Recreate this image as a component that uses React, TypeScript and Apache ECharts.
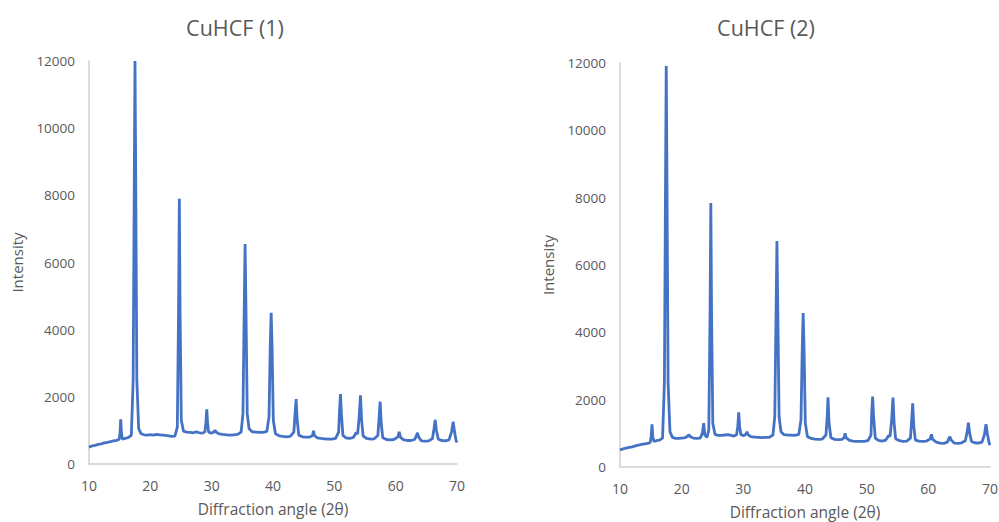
import React, { useEffect, useRef } from "react";
import * as echarts from "echarts";

const titles = ["CuHCF (1)", "CuHCF (2)"];
const xTitle = "Diffraction angle (2θ)";
const yTitle = "Intensity";

// [2θ, intensity]
const cuhcf1: [number, number][] = [
  [10.0, 500], [10.5, 540], [11.0, 555], [11.5, 585], [12.0, 600], [12.5, 630], [13.0, 645], [13.5, 665],
  [14.0, 690], [14.5, 705], [14.9, 730], [15.05, 900], [15.17, 1330], [15.3, 900], [15.45, 740],
  [15.9, 760], [16.4, 790], [16.9, 850], [17.2, 2500], [17.4, 9000], [17.5, 12000], [17.6, 9000],
  [17.8, 2500], [18.1, 1050], [18.5, 900], [19.0, 870], [19.5, 860], [20.0, 875], [20.5, 860],
  [21.0, 880], [21.5, 870], [22.0, 860], [22.5, 850], [23.0, 840], [23.5, 820], [24.0, 830],
  [24.4, 1100], [24.6, 4500], [24.73, 7900], [24.85, 4500], [25.05, 1300], [25.4, 980], [25.9, 950],
  [26.5, 940], [27.0, 930], [27.5, 955], [28.0, 930], [28.5, 920], [28.9, 960], [29.05, 1200],
  [29.2, 1630], [29.35, 1200], [29.5, 950], [30.0, 920], [30.4, 960], [30.55, 1010], [30.7, 950],
  [31.2, 900], [31.8, 880], [32.4, 870], [33.0, 860], [33.6, 870], [34.2, 880], [34.8, 950],
  [35.1, 1500], [35.3, 4500], [35.45, 6550], [35.6, 4500], [35.8, 1500], [36.1, 1050], [36.6, 960],
  [37.2, 950], [37.8, 940], [38.4, 940], [39.0, 970], [39.35, 1400], [39.55, 3500], [39.7, 4500],
  [39.85, 3500], [40.05, 1300], [40.4, 900], [41.0, 840], [41.6, 820], [42.2, 810], [42.8, 820],
  [43.4, 950], [43.6, 1500], [43.77, 1935], [43.95, 1300], [44.2, 860], [44.8, 810], [45.4, 800],
  [46.0, 800], [46.45, 850], [46.6, 990], [46.75, 850], [47.2, 780], [47.8, 760], [48.4, 750],
  [49.0, 740], [49.6, 740], [50.2, 760], [50.7, 950], [50.85, 1600], [51.0, 2085], [51.15, 1500],
  [51.4, 850], [51.9, 780], [52.5, 760], [53.1, 790], [53.55, 930], [53.8, 900], [54.05, 1400],
  [54.26, 2045], [54.45, 1300], [54.7, 830], [55.3, 760], [55.9, 740], [56.5, 750], [57.1, 850],
  [57.3, 1400], [57.47, 1855], [57.65, 1200], [57.9, 780], [58.5, 730], [59.1, 720], [59.7, 730],
  [60.35, 800], [60.57, 960], [60.8, 790], [61.3, 720], [61.9, 700], [62.5, 700], [63.1, 730],
  [63.4, 850], [63.56, 930], [63.75, 800], [64.2, 690], [64.8, 680], [65.4, 690], [66.0, 760],
  [66.25, 1050], [66.44, 1310], [66.65, 1000], [66.95, 740], [67.5, 700], [68.1, 690], [68.7, 720],
  [69.1, 950], [69.38, 1260], [69.6, 950], [69.85, 700], [70.0, 640],
];

const cuhcf2: [number, number][] = [
  [10.0, 510], [10.5, 540], [11.0, 560], [11.5, 580], [12.0, 600], [12.5, 625], [13.0, 650], [13.5, 670],
  [14.0, 690], [14.5, 700], [14.9, 730], [15.05, 900], [15.19, 1270], [15.32, 900], [15.5, 760],
  [15.9, 780], [16.4, 800], [16.9, 860], [17.2, 2500], [17.4, 9000], [17.5, 11910], [17.6, 9000],
  [17.8, 2500], [18.1, 1050], [18.5, 880], [19.0, 850], [19.5, 850], [20.0, 860], [20.6, 870],
  [21.0, 920], [21.2, 960], [21.4, 900], [21.9, 860], [22.5, 850], [23.0, 860], [23.35, 1000],
  [23.57, 1300], [23.75, 950], [24.1, 880], [24.4, 1100], [24.6, 4500], [24.73, 7840], [24.85, 4500],
  [25.05, 1300], [25.4, 970], [25.9, 940], [26.5, 940], [27.0, 950], [27.5, 960], [28.0, 940],
  [28.5, 920], [28.9, 960], [29.1, 1200], [29.25, 1625], [29.4, 1200], [29.6, 960], [30.1, 930],
  [30.45, 980], [30.6, 1050], [30.75, 960], [31.2, 900], [31.8, 890], [32.4, 880], [33.0, 870],
  [33.6, 880], [34.2, 880], [34.8, 950], [35.1, 1500], [35.3, 4500], [35.45, 6710], [35.6, 4500],
  [35.8, 1500], [36.1, 1050], [36.6, 960], [37.2, 950], [37.8, 945], [38.4, 940], [39.0, 970],
  [39.35, 1400], [39.55, 3500], [39.7, 4570], [39.85, 3500], [40.05, 1300], [40.4, 900], [41.0, 850],
  [41.6, 830], [42.2, 820], [42.8, 830], [43.4, 950], [43.6, 1500], [43.73, 2070], [43.9, 1300],
  [44.2, 870], [44.8, 820], [45.4, 810], [46.0, 820], [46.35, 870], [46.5, 1000], [46.65, 870],
  [47.2, 790], [47.8, 770], [48.4, 760], [49.0, 760], [49.6, 760], [50.2, 780], [50.7, 950],
  [50.82, 1600], [50.97, 2090], [51.12, 1500], [51.4, 860], [51.9, 790], [52.5, 770], [53.1, 800],
  [53.55, 930], [53.8, 920], [54.05, 1400], [54.27, 2060], [54.45, 1300], [54.7, 840], [55.3, 780],
  [55.9, 760], [56.5, 770], [57.1, 860], [57.3, 1400], [57.46, 1890], [57.65, 1200], [57.9, 800],
  [58.5, 770], [59.1, 760], [59.7, 770], [60.3, 830], [60.5, 970], [60.7, 820], [61.3, 740],
  [61.9, 710], [62.5, 700], [63.1, 740], [63.35, 850], [63.5, 900], [63.7, 800], [64.2, 710],
  [64.8, 700], [65.4, 720], [66.0, 780], [66.3, 1050], [66.5, 1315], [66.7, 1000], [67.0, 760],
  [67.5, 720], [68.1, 710], [68.7, 740], [69.1, 960], [69.35, 1270], [69.6, 960], [69.85, 720],
  [70.0, 650],
];

const xMin = 10, xMax = 70, xStep = 10;
const yMin = 0, yMax = 12000, yStep = 2000;

const TEXT = "#595959";
const AXIS = "#d0d0d0";
const LINE = "#4472C4";
const FONT = "Open Sans";

export default function App() {
  const ref = useRef<HTMLDivElement>(null);
  useEffect(() => {
    if (!ref.current) return;
    const chart = echarts.init(ref.current, null, { renderer: "svg" });
    const grids = [
      { left: 89, top: 61, width: 368, height: 403, containLabel: false, outerBoundsMode: "none" },
      { left: 620, top: 63, width: 370, height: 404, containLabel: false, outerBoundsMode: "none" },
    ];
    const mkX = (i: number) => ({
      type: "value",
      gridIndex: i,
      min: xMin,
      max: xMax,
      interval: xStep,
      name: xTitle,
      nameLocation: "middle",
      nameGap: 37,
      nameTextStyle: { color: TEXT, fontSize: 15.5, fontFamily: FONT },
      axisLine: { show: true, lineStyle: { color: AXIS, width: 1.5 } },
      axisTick: { show: false },
      splitLine: { show: false },
      axisLabel: { color: TEXT, fontSize: 14, fontFamily: FONT, margin: 14, formatter: (v: number) => String(v) },
    });
    const mkY = (i: number) => ({
      type: "value",
      gridIndex: i,
      min: yMin,
      max: yMax,
      interval: yStep,
      name: yTitle,
      nameLocation: "middle",
      nameGap: 65,
      nameRotate: 90,
      nameTextStyle: { color: TEXT, fontSize: 15, fontFamily: FONT },
      axisLine: { show: true, lineStyle: { color: AXIS, width: 1.5 } },
      axisTick: { show: false },
      splitLine: { show: false },
      axisLabel: { color: TEXT, fontSize: 13.5, fontFamily: FONT, margin: 14, formatter: (v: number) => String(v) },
    });
    chart.setOption({
      animation: false,
      backgroundColor: "#ffffff",
      title: [
        { text: titles[0], left: 230, top: 11, textAlign: "center", textStyle: { color: TEXT, fontSize: 21.5, fontWeight: "normal", fontFamily: FONT } },
        { text: titles[1], left: 761, top: 11, textAlign: "center", textStyle: { color: TEXT, fontSize: 21.5, fontWeight: "normal", fontFamily: FONT } },
      ],
      grid: grids,
      xAxis: [mkX(0), mkX(1)],
      yAxis: [mkY(0), mkY(1)],
      series: [
        { type: "line", xAxisIndex: 0, yAxisIndex: 0, data: cuhcf1, showSymbol: false, lineStyle: { color: LINE, width: 2.8 }, itemStyle: { color: LINE } },
        { type: "line", xAxisIndex: 1, yAxisIndex: 1, data: cuhcf2, showSymbol: false, lineStyle: { color: LINE, width: 2.8 }, itemStyle: { color: LINE } },
      ],
    });
    return () => chart.dispose();
  }, []);
  return <div ref={ref} style={{ position: "fixed", left: 0, top: 0, width: 999, height: 522 }} />;
}
